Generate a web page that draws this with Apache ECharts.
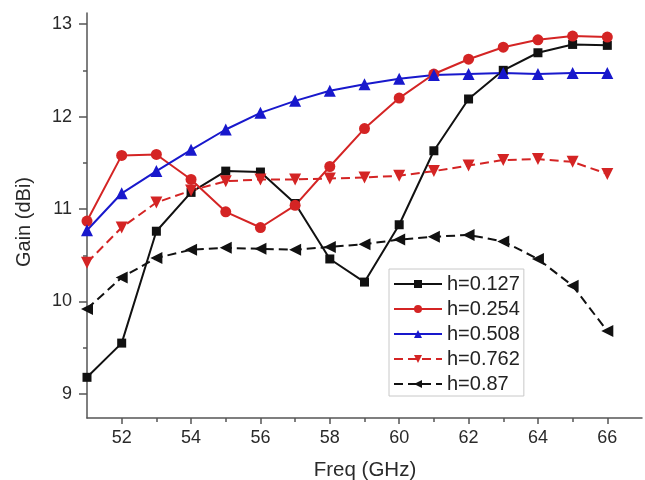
<!DOCTYPE html>
<html><head><meta charset="utf-8">
<script src="https://cdn.jsdelivr.net/npm/echarts@6/dist/echarts.min.js"></script>
<style>html,body{margin:0;padding:0;background:#fff}#c{width:645px;height:480px}</style>
</head><body><div id="c"></div>
<script>
const freq = [51,52,53,54,55,56,57,58,59,60,61,62,63,64,65,66];
const h0127 = [9.18,9.55,10.76,11.18,11.41,11.40,11.06,10.46,10.21,10.83,11.63,12.19,12.50,12.69,12.78,12.77];
const h0254 = [10.87,11.58,11.59,11.32,10.97,10.80,11.04,11.46,11.87,12.20,12.46,12.62,12.75,12.83,12.87,12.86];
const h0508 = [10.77,11.17,11.41,11.64,11.86,12.04,12.17,12.28,12.35,12.41,12.45,12.46,12.47,12.46,12.47,12.47];
const h0762 = [10.42,10.80,11.07,11.20,11.30,11.32,11.32,11.33,11.34,11.36,11.41,11.47,11.53,11.54,11.51,11.38];
const h087  = [9.92,10.26,10.47,10.56,10.58,10.57,10.56,10.59,10.62,10.67,10.70,10.72,10.65,10.46,10.17,9.68];
const seriesNames = ['h=0.127','h=0.254','h=0.508','h=0.762','h=0.87'];
const xMajor = [52,54,56,58,60,62,64,66];
const xMinor = [53,55,57,59,61,63,65];
const yMajor = [9,10,11,12,13];
const yMinor = [9.5,10.5,11.5,12.5];

const pair = arr => freq.map((f,i)=>[f,arr[i]]);
const FONT = 'Liberation Sans, Arial, sans-serif';
const axisCol = '#555';
const black = '#111111', red = '#d42424', blue = '#1818cc';

const chart = echarts.init(document.getElementById('c'));
const mk = (name, data, color, symbol, size, rot, dashed) => ({
  name, type:'line', data:pair(data), xAxisIndex:0, yAxisIndex:0,
  symbol, symbolSize:size, symbolRotate:rot, showSymbol:true,
  lineStyle:{color, width:2, type: dashed ? [9,5] : 'solid'},
  itemStyle:{color, borderWidth:0},
  emphasis:{disabled:true}, animation:false, z:3
});
chart.setOption({
  animation:false,
  grid:{left:87, right:3, top:13, bottom:62, containLabel:false},
  xAxis:[{
    type:'value', min:51, max:67, position:'bottom',
    axisLine:{show:true, lineStyle:{color:axisCol, width:1.5}},
    axisTick:{show:true, customValues:xMajor, length:6, lineStyle:{color:axisCol, width:1.5}},
    axisLabel:{show:true, customValues:xMajor, fontSize:18, color:'#2a2a2a', fontFamily:FONT, margin:11},
    splitLine:{show:false}
  },{
    type:'value', min:51, max:67, position:'bottom', offset:0,
    axisLine:{show:false},
    axisTick:{show:true, customValues:xMinor, length:4, lineStyle:{color:axisCol, width:1.5}},
    axisLabel:{show:false}, splitLine:{show:false}
  }],
  yAxis:[{
    type:'value', min:8.74, max:13.12, position:'left',
    axisLine:{show:true, lineStyle:{color:axisCol, width:1.5}},
    axisTick:{show:true, customValues:yMajor, length:8, lineStyle:{color:axisCol, width:1.5}},
    axisLabel:{show:true, customValues:yMajor, fontSize:18, color:'#2a2a2a', fontFamily:FONT, margin:15},
    splitLine:{show:false}
  },{
    type:'value', min:8.74, max:13.12, position:'left', offset:0,
    axisLine:{show:false},
    axisTick:{show:true, customValues:yMinor, length:4, lineStyle:{color:axisCol, width:1.5}},
    axisLabel:{show:false}, splitLine:{show:false}
  }],
  legend:{
    orient:'vertical', left:389, top:269, data:seriesNames,
    backgroundColor:'#fff', borderColor:'#c8c8c8', borderWidth:1,
    padding:[5,4,2,4], itemGap:5, itemWidth:48, itemHeight:10,
    textStyle:{fontSize:20, color:'#222', fontFamily:FONT}
  },
  graphic:[
    {type:'text', x:365, y:470, style:{text:'Freq (GHz)', font:'20.5px '+FONT, fill:'#2a2a2a', align:'center', verticalAlign:'middle'}},
    {type:'text', x:24, y:222, rotation:Math.PI/2, style:{text:'Gain (dBi)', font:'20px '+FONT, fill:'#2a2a2a', align:'center', verticalAlign:'middle'}}
  ],
  series:[
    mk(seriesNames[0], h0127, black, 'rect', 9, 0, false),
    mk(seriesNames[1], h0254, red, 'circle', 11, 0, false),
    mk(seriesNames[2], h0508, blue, 'triangle', 12, 0, false),
    mk(seriesNames[3], h0762, red, 'triangle', 12, 180, true),
    mk(seriesNames[4], h087, black, 'triangle', 12, 90, true)
  ]
});
</script></body></html>
